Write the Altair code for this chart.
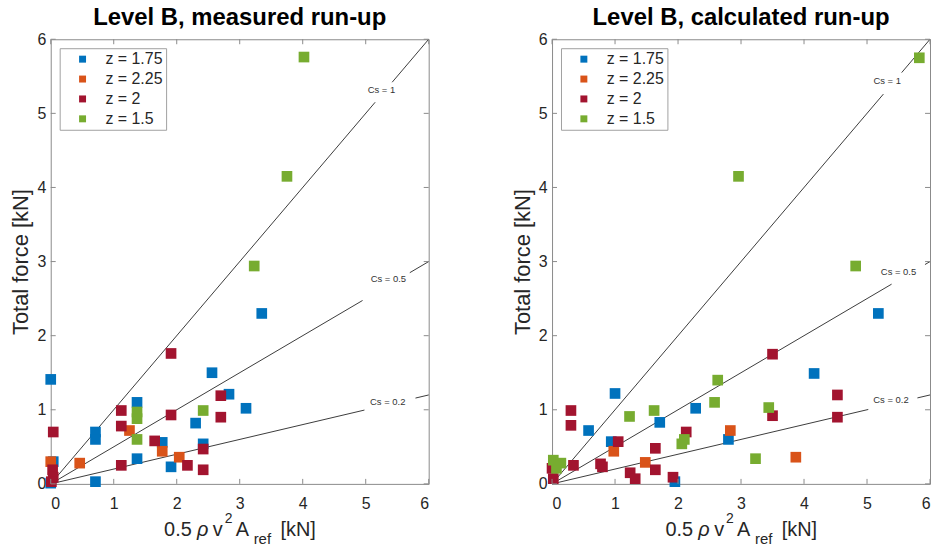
import altair as alt
import pandas as pd

FONT = "Liberation Sans"
TXT = "#262626"
FRAME = "#8a8a8a"

groups = ["z = 1.75", "z = 2.25", "z = 2", "z = 1.5"]
colors = ["#0072BD", "#D95319", "#A2142F", "#77AC30"]

# ---------------- measured run-up (left) ----------------
m_blue_x = [0.0, 0.04, 0.0, 0.71, 0.71, 0.71, 1.37, 1.37, 1.77, 1.91, 2.30, 2.42, 2.56, 2.83, 3.10, 3.35]
m_blue_y = [1.41, 0.30, 0.01, 0.70, 0.60, 0.03, 1.10, 0.34, 0.56, 0.23, 0.82, 0.54, 1.50, 1.21, 1.02, 2.30]
m_orange_x = [0.0, 0.46, 1.25, 1.77, 2.04]
m_orange_y = [0.30, 0.28, 0.72, 0.44, 0.36]
m_red_x = [0.04, 0.03, 0.04, 0.01, 1.12, 1.12, 1.12, 1.65, 1.91, 1.91, 2.17, 2.42, 2.42, 2.70, 2.70]
m_red_y = [0.70, 0.19, 0.09, 0.03, 0.99, 0.78, 0.25, 0.58, 0.93, 1.76, 0.25, 0.47, 0.19, 1.19, 0.90]
m_green_x = [1.37, 1.37, 1.37, 2.42, 3.23, 3.75, 4.02]
m_green_y = [0.97, 0.88, 0.60, 0.99, 2.94, 4.15, 5.76]

# ---------------- calculated run-up (right) ----------------
c_blue_x = [0.58, 1.00, 0.94, 1.71, 1.95, 2.28, 2.80, 4.16, 5.18]
c_blue_y = [0.72, 1.22, 0.57, 0.83, 0.03, 1.02, 0.60, 1.49, 2.30]
c_orange_x = [0.98, 1.48, 2.83, 3.87]
c_orange_y = [0.44, 0.29, 0.72, 0.36]
c_red_x = [0.30, 0.30, 0.34, 0.77, 0.80, 1.05, 1.24, 1.32, 1.64, 1.64, 1.92, 2.13, 3.50, 3.50, 4.53, 4.53, 0.0, 0.02]
c_red_y = [0.99, 0.79, 0.25, 0.27, 0.23, 0.57, 0.15, 0.07, 0.48, 0.19, 0.09, 0.70, 1.75, 0.92, 1.20, 0.90, 0.21, 0.07]
c_green_x = [0.02, 0.14, 0.07, 1.23, 1.62, 2.06, 2.10, 2.58, 2.63, 3.23, 3.44, 2.96, 4.82, 5.83]
c_green_y = [0.32, 0.28, 0.21, 0.91, 0.99, 0.54, 0.60, 1.10, 1.40, 0.34, 1.03, 4.15, 2.94, 5.75]

# reference lines F = Cs * (0.5 rho v^2 A)
cs_values = [1, 0.5, 0.2]
cs_labels = ["Cs = 1", "Cs = 0.5", "Cs = 0.2"]
m_gap_lo = [5.15, 4.95, 4.98]
m_gap_hi = [5.42, 5.70, 5.79]
m_lab_x = [5.25, 5.36, 5.35]
m_lab_y = [5.32, 2.77, 1.10]
c_gap_lo = [5.26, 5.39, 5.02]
c_gap_hi = [5.55, 5.92, 5.80]
c_lab_x = [5.32, 5.50, 5.38]
c_lab_y = [5.44, 2.86, 1.13]

ticks = [0, 1, 2, 3, 4, 5, 6]

W, H = 380, 447


def points_df(bx, by, ox, oy, rx, ry, gx, gy):
    rows = []
    for g, xs, ys in zip(groups, [bx, ox, rx, gx], [by, oy, ry, gy]):
        for a, b in zip(xs, ys):
            rows.append({"x": a, "y": b, "z": g})
    return pd.DataFrame(rows)


def lines_df(lo, hi):
    rows = []
    for i, cs in enumerate(cs_values):
        for seg, (a, b) in enumerate([(0.0, lo[i]), (hi[i], 6.0)]):
            sid = f"{i}-{seg}"
            rows.append({"x": a, "y": cs * a, "seg": sid})
            rows.append({"x": b, "y": cs * b, "seg": sid})
    return pd.DataFrame(rows)


def xenc(field="x"):
    return alt.X(f"{field}:Q", scale=alt.Scale(domain=[0, 6], nice=False, zero=False),
                 axis=alt.Axis(values=ticks, title=None))


def yenc(field="y"):
    return alt.Y(f"{field}:Q", scale=alt.Scale(domain=[0, 6], nice=False, zero=False),
                 axis=alt.Axis(values=ticks, title="Total force [kN]"))


def panel(title, pts, lo, hi, lx, ly):
    color = alt.Color("z:N", scale=alt.Scale(domain=groups, range=colors),
                      sort=groups,
                      legend=alt.Legend(title=None, orient="top-left", offset=9))
    lines = alt.Chart(lines_df(lo, hi)).mark_line(color="#262626", strokeWidth=0.9).encode(
        x=xenc(), y=yenc(), detail="seg:N")
    labels = alt.Chart(pd.DataFrame({"x": lx, "y": ly, "t": cs_labels})).mark_text(
        font=FONT, fontSize=9.5, color="#333333", align="center", baseline="middle").encode(
        x=xenc(), y=yenc(), text="t:N")
    points = alt.Chart(pts).mark_square(size=115, opacity=1).encode(
        x=xenc(), y=yenc(), color=color)
    tdf = pd.DataFrame({"x": ticks, "y": ticks})
    t_bot = alt.Chart(tdf).mark_rule(color=FRAME).encode(x=xenc(), y=alt.value(H), y2=alt.value(H - 5))
    t_top = alt.Chart(tdf).mark_rule(color=FRAME).encode(x=xenc(), y=alt.value(0), y2=alt.value(5))
    t_left = alt.Chart(tdf).mark_rule(color=FRAME).encode(y=yenc(), x=alt.value(0), x2=alt.value(5))
    t_right = alt.Chart(tdf).mark_rule(color=FRAME).encode(y=yenc(), x=alt.value(W), x2=alt.value(W - 5))

    # x-axis title with superscript and subscript, as text pieces
    pieces = [
        ("0.5", 114, 499, 20, "normal"),
        ("ρ", 147, 499, 20, "italic"),
        ("v", 163, 499, 20, "normal"),
        ("2", 175, 486, 14, "normal"),
        ("A", 186, 499, 20, "normal"),
        ("ref", 204, 507, 15, "normal"),
        ("[kN]", 231, 499, 20, "normal"),
    ]
    xt = []
    for txt, px, py, fs, st in pieces:
        xt.append(alt.Chart(pd.DataFrame({"t": [txt]})).mark_text(
            font=FONT, fontSize=fs, fontStyle=st, color=TXT, align="left", baseline="alphabetic"
        ).encode(x=alt.value(px), y=alt.value(py), text="t:N"))

    layered = alt.layer(lines, labels, points, t_bot, t_top, t_left, t_right, *xt).properties(
        width=W, height=H,
        title=alt.TitleParams(title, font=FONT, fontSize=24, fontWeight="bold", color="#000000",
                              offset=1, anchor="middle"))
    return layered


left = panel("Level B, measured run-up",
             points_df(m_blue_x, m_blue_y, m_orange_x, m_orange_y, m_red_x, m_red_y, m_green_x, m_green_y),
             m_gap_lo, m_gap_hi, m_lab_x, m_lab_y)
right = panel("Level B, calculated run-up",
              points_df(c_blue_x, c_blue_y, c_orange_x, c_orange_y, c_red_x, c_red_y, c_green_x, c_green_y),
              c_gap_lo, c_gap_hi, c_lab_x, c_lab_y)

chart = alt.hconcat(left, right, spacing=79).resolve_legend(color="independent").properties(
    padding={"left": 9, "top": 4, "right": 0, "bottom": 0}
).configure_view(stroke=FRAME, strokeWidth=1).configure_axis(
    ticks=False, tickSize=0, domain=False, grid=False, labelFont=FONT, labelFontSize=16, labelColor=TXT,
    titleFont=FONT, titleFontSize=22, titleFontWeight="normal", titleColor=TXT,
).configure_axisX(labelPadding=12).configure_axisY(labelPadding=5, titlePadding=4).configure_legend(
    strokeColor="#a0a0a0", fillColor="#ffffff", padding=3, symbolType="square", symbolSize=49,
    symbolStrokeWidth=0, labelFont=FONT, labelFontSize=16, labelColor=TXT, rowPadding=4,
    symbolOffset=12, labelOffset=15, cornerRadius=0
)

chart.save("out.html", embed_options={"renderer": "svg", "actions": False})
